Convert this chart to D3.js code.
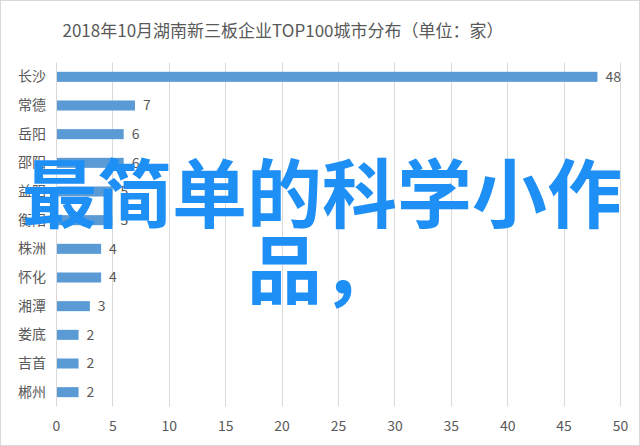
<!DOCTYPE html>
<html>
<head>
<meta charset="utf-8">
<script src="https://cdn.jsdelivr.net/npm/d3@7"></script>
<style>
  body{ margin:0; background:#fff; }
  svg text{ font-family:"Noto Sans CJK SC","Noto Sans",sans-serif; }
</style>
</head>
<body>
<div id="chart"></div>
<script>
// Data.
const title = '2018年10月湖南新三板企业TOP100城市分布（单位：家）';
const cities = ['长沙','常德','岳阳','邵阳','益阳','衡阳','株洲','怀化','湘潭','娄底','吉首','郴州'];
const counts = [48, 7, 6, 6, 5, 5, 4, 4, 3, 2, 2, 2];
const x_ticks = [0, 5, 10, 15, 20, 25, 30, 35, 40, 45, 50];
const overlay_lines = ['最简单的科学小作', '品，'];

const W = 640, H = 446;
const margin = { left: 56, right: 20, top: 62.5, bottom: 39.5 };
const bar_color = '#5b9bd5';
const text_color = '#595959';
const grid_color = '#d9d9d9';

const svg = d3.select( '#chart' ).append( 'svg' )
  .attr( 'width', W )
  .attr( 'height', H );

// Outer frame of the chart.
svg.append( 'rect' )
  .attr( 'x', 0.5 ).attr( 'y', 0.5 )
  .attr( 'width', W - 1 ).attr( 'height', H - 1 )
  .attr( 'fill', '#fff' )
  .attr( 'stroke', grid_color );

// Title
svg.append( 'text' )
  .attr( 'x', 283 )
  .attr( 'y', 37 )
  .attr( 'text-anchor', 'middle' )
  .attr( 'font-size', 17 )
  .attr( 'fill', text_color )
  .text( title );

const x_scale = d3.scaleLinear()
  .domain( [0, 50] )
  .range( [margin.left, W - margin.right] );

const y_scale = d3.scaleBand()
  .domain( cities )
  .range( [margin.top, H - margin.bottom] );

const bar_h = y_scale.bandwidth() * 0.35;

// Vertical gridlines, one per tick.
svg.append( 'g' )
  .selectAll( 'line' )
  .data( x_ticks )
  .enter()
  .append( 'line' )
    .attr( 'x1', d => Math.round( x_scale( d ) ) + 0.5 )
    .attr( 'x2', d => Math.round( x_scale( d ) ) + 0.5 )
    .attr( 'y1', margin.top )
    .attr( 'y2', H - margin.bottom )
    .attr( 'stroke', grid_color );

// X axis tick labels (no domain line, no tick marks).
const x_axis = svg.append( 'g' )
  .attr( 'transform', 'translate(0,' + ( H - margin.bottom ) + ')' )
  .call( d3.axisBottom( x_scale ).tickValues( x_ticks ).tickSize( 0 ).tickPadding( 24 ) );
x_axis.select( '.domain' ).remove();
x_axis.selectAll( 'text' )
  .attr( 'font-size', 14 )
  .attr( 'fill', text_color )
  .attr( 'dy', 0 )
  .style( 'font-family', '"Noto Sans CJK SC","Noto Sans",sans-serif' );

// Y axis city labels.
const y_axis = svg.append( 'g' )
  .attr( 'transform', 'translate(' + margin.left + ',0)' )
  .call( d3.axisLeft( y_scale ).tickSize( 0 ).tickPadding( 10 ) );
y_axis.select( '.domain' ).remove();
y_axis.selectAll( 'text' )
  .attr( 'font-size', 14 )
  .attr( 'fill', text_color )
  .style( 'font-family', '"Noto Sans CJK SC","Noto Sans",sans-serif' );

// Bars
svg.append( 'g' )
  .selectAll( 'rect' )
  .data( cities )
  .enter()
  .append( 'rect' )
    .attr( 'x', x_scale( 0 ) + 1 )
    .attr( 'y', d => y_scale( d ) + ( y_scale.bandwidth() - bar_h ) / 2 )
    .attr( 'width', ( d, i ) => x_scale( counts[i] ) - x_scale( 0 ) - 1 )
    .attr( 'height', bar_h )
    .attr( 'fill', bar_color );

// Value labels at bar ends.
svg.append( 'g' )
  .selectAll( 'text' )
  .data( cities )
  .enter()
  .append( 'text' )
    .attr( 'x', ( d, i ) => x_scale( counts[i] ) + 8 )
    .attr( 'y', d => y_scale( d ) + y_scale.bandwidth() / 2 )
    .attr( 'dy', '0.35em' )
    .attr( 'font-size', 14 )
    .attr( 'fill', text_color )
    .text( ( d, i ) => counts[i] );

// Big blue overlay text laid over the chart.
svg.append( 'g' )
  .selectAll( 'text' )
  .data( overlay_lines )
  .enter()
  .append( 'text' )
    .attr( 'x', 322 )
    .attr( 'y', ( d, i ) => 222 + i * 76 )
    .attr( 'text-anchor', 'middle' )
    .attr( 'font-size', 75 )
    .attr( 'font-weight', 'bold' )
    .attr( 'fill', '#1e8ff5' )
    .text( d => d );
</script>
</body>
</html>
